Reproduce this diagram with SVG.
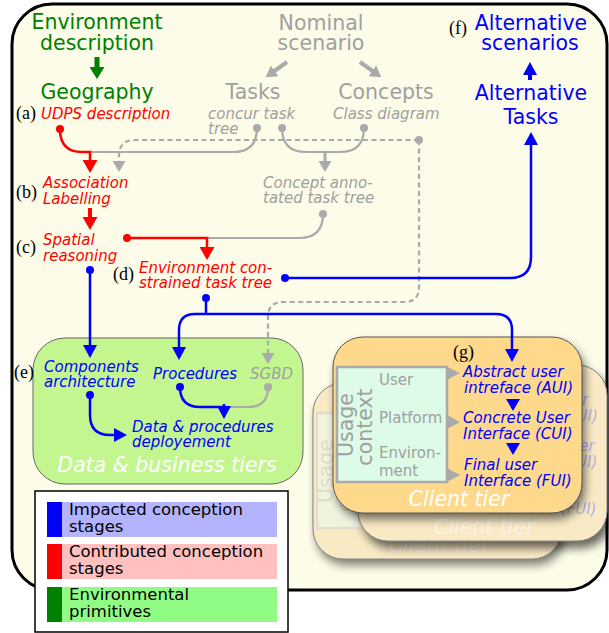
<svg xmlns="http://www.w3.org/2000/svg" xmlns:xlink="http://www.w3.org/1999/xlink" width="609" height="633" viewBox="0 0 609 633">
<style>
text{font-family:"DejaVu Sans","Noto Sans",sans-serif}
.big{font-size:20.5px}
.it{font-size:15px;font-style:italic}
.nm{font-size:15px}
.lab{font-family:"Liberation Serif","DejaVu Serif",serif;font-size:18px;fill:#000}
.grn{fill:#008000}.red{fill:#ff0000}.blu{fill:#0000ff}.gry{fill:#a0a0a0}
.leg{font-size:16.5px;fill:#000}
.tier{font-size:20.5px;font-style:italic;fill:#ffffff}
.cr{fill:none;stroke:#ff0000;stroke-width:2.5}
.cb{fill:none;stroke:#0000ff;stroke-width:2.5}
.cg{fill:none;stroke:#aaaaaa;stroke-width:2.2}
.dash{stroke-dasharray:5,3.5}
.dr{fill:#ff0000}.db{fill:#0000ff}.dg{fill:#aaaaaa}
</style>
<defs>
<marker id="ah-r" viewBox="0 0 13 15" refX="2" refY="7.5" markerWidth="13" markerHeight="15" markerUnits="userSpaceOnUse" orient="auto"><path d="M0,0 L13,7.5 L0,15 Z" fill="#ff0000"/></marker>
<marker id="ah-b" viewBox="0 0 13 14" refX="2" refY="7" markerWidth="13" markerHeight="14" markerUnits="userSpaceOnUse" orient="auto"><path d="M0,0 L13,7 L0,14 Z" fill="#0000ff"/></marker>
<marker id="ah-g" viewBox="0 0 11 13" refX="2" refY="6.5" markerWidth="11" markerHeight="13" markerUnits="userSpaceOnUse" orient="auto"><path d="M0,0 L11,6.5 L0,13 Z" fill="#aaaaaa"/></marker>
<marker id="ah-gr" viewBox="0 0 12 15" refX="2" refY="7.5" markerWidth="12" markerHeight="15" markerUnits="userSpaceOnUse" orient="auto"><path d="M0,0 L12,7.5 L0,15 Z" fill="#008000"/></marker>
<filter id="shadow" x="-20%" y="-20%" width="140%" height="140%"><feGaussianBlur stdDeviation="5"/></filter>
</defs>

<rect id="background" x="12" y="4" width="595" height="586" rx="40" fill="#fcfce8" stroke="#000" stroke-width="3"/>

<g id="data-business-tiers">
<rect x="33" y="338" width="270" height="146" rx="32" fill="#c4f690" stroke="#666" stroke-width="1"/>
<text class="tier" x="167" y="472" text-anchor="middle">Data &amp; business tiers</text>
</g>

<g id="client-tier-back-left" transform="translate(-20,46)">
<rect x="336" y="343" width="249" height="176" rx="30" fill="#000" opacity="0.5" filter="url(#shadow)"/>
<rect x="333" y="337" width="249" height="176" rx="30" fill="#f8f1dc" stroke="#999" stroke-width="1"/>
<use xlink:href="#client-card" href="#client-card" opacity="0.28"/>
</g>
<g id="client-tier-back-right" transform="translate(25,28)">
<rect x="337" y="344" width="249" height="176" rx="30" fill="#000" opacity="0.6" filter="url(#shadow)"/>
<rect x="333" y="337" width="249" height="176" rx="30" fill="#f8f1dc" stroke="#999" stroke-width="1"/>
<use xlink:href="#client-card" href="#client-card" opacity="0.28"/>
</g>

<g id="client-tier">
<rect x="336" y="343" width="249" height="176" rx="30" fill="#000" opacity="0.55" filter="url(#shadow)"/>
<g id="client-card">
<rect x="333" y="337" width="249" height="176" rx="30" fill="#fed98b" stroke="#555" stroke-width="1"/>
<g id="usage-context">
<rect x="337" y="367" width="110" height="115" fill="#ddfbe6" stroke="#aaaaaa" stroke-width="2.5"/>
<text class="gry" font-size="20.5" transform="translate(353,425) rotate(-90)" text-anchor="middle">Usage</text>
<text class="gry" font-size="20.5" transform="translate(372,427) rotate(-90)" text-anchor="middle">context</text>
<text class="nm gry" x="379" y="385">User</text>
<text class="nm gry" x="379" y="423">Platform</text>
<text class="nm gry" x="379" y="458">Environ-</text>
<text class="nm gry" x="379" y="476">ment</text>
<path class="dg" d="M447,367 L460,373 L447,380 Z M447,415 L460,422 L447,429 Z M447,468 L460,475 L447,482 Z"/>
</g>
<g id="aui"><text class="it blu" x="463" y="377">Abstract user</text><text class="it blu" x="464" y="393">intreface (AUI)</text></g>
<path class="db" d="M506,399 L520,399 L513,411 Z"/>
<g id="cui"><text class="it blu" x="463" y="423">Concrete User</text><text class="it blu" x="463" y="439">Interface (CUI)</text></g>
<path class="db" d="M506,443 L520,443 L513,455 Z"/>
<g id="fui"><text class="it blu" x="464" y="470">Final user</text><text class="it blu" x="464" y="486">Interface (FUI)</text></g>
<text class="tier" x="459" y="506" text-anchor="middle">Client tier</text>
</g>
<text class="lab" x="453" y="358">(g)</text>
</g>

<g id="connectors">
<path class="cr" d="M97,57 L97,69" style="stroke:#008000;stroke-width:5" marker-end="url(#ah-gr)"/>
<path class="cg" d="M287,62 L273,72" style="stroke-width:4" marker-end="url(#ah-g)"/>
<path class="cg" d="M360,62 L374,72" style="stroke-width:4" marker-end="url(#ah-g)"/>
<path class="cb" d="M530,80 L530,73" style="stroke-width:4" marker-end="url(#ah-b)"/>
<path class="cg" d="M257,128 Q257,152 233,152 L90,152"/>
<path class="cg" d="M282,128 Q282,152 306,152 L340,152 Q364,152 364,128"/>
<path class="cg" d="M325,152 L325,163" style="stroke-width:3" marker-end="url(#ah-g)"/>
<path class="cg dash" d="M419,140 L135,140 Q119,140 119,156 L119,163" marker-end="url(#ah-g)"/>
<path class="cg dash" d="M419,140 L419,287 Q419,302 404,302 L283,302 Q268,302 268,317 L268,355" marker-end="url(#ah-g)"/>
<path class="cg" d="M323,214 Q323,238 299,238 L207,238"/>
<path class="cg" d="M268,387 Q268,407 248,407 L224,407"/>
<path class="cr" d="M60,129 Q60,152 82,152 L90,152 L90,162" marker-end="url(#ah-r)"/>
<path class="cr" d="M90,208 L90,219" style="stroke-width:4" marker-end="url(#ah-r)"/>
<path class="cr" d="M127,238 L207,238 L207,249" marker-end="url(#ah-r)"/>
<path class="cb" d="M90,270 L90,347" marker-end="url(#ah-b)"/>
<path class="cb" d="M206,298 L206,314"/>
<path class="cb" d="M206,314 L195,314 Q179,314 179,330 L179,349" marker-end="url(#ah-b)"/>
<path class="cb" d="M206,314 L496,314 Q512,314 512,330 L512,351" marker-end="url(#ah-b)"/>
<path class="cb" d="M285,278 L510,278 Q531,278 531,257 L531,143" marker-end="url(#ah-b)"/>
<path class="cb" d="M90,395 L90,415 Q90,435 110,435 L116,435" marker-end="url(#ah-b)"/>
<path class="cb" d="M180,387 Q180,407 200,407 L224,407"/>
<path class="cb" d="M224,404 L224,408" marker-end="url(#ah-b)"/>
<circle class="dr" cx="60" cy="129" r="4"/>
<circle class="dr" cx="127" cy="238" r="4"/>
<circle class="dg" cx="257" cy="128" r="4"/>
<circle class="dg" cx="282" cy="128" r="4"/>
<circle class="dg" cx="364" cy="128" r="4"/>
<circle class="dg" cx="419" cy="140" r="4"/>
<circle class="dg" cx="323" cy="214" r="4"/>
<circle class="dg" cx="268" cy="387" r="4"/>
<circle class="db" cx="90" cy="270" r="4"/>
<circle class="db" cx="206" cy="298" r="4"/>
<circle class="db" cx="285" cy="278" r="4"/>
<circle class="db" cx="90" cy="395" r="4"/>
<circle class="db" cx="180" cy="387" r="4"/>
</g>

<g id="environment-description"><text class="big grn" x="97" y="29" text-anchor="middle">Environment</text><text class="big grn" x="97" y="50" text-anchor="middle">description</text></g>
<g id="geography"><text class="big grn" x="97" y="99" text-anchor="middle">Geography</text></g>
<g id="udps"><text class="lab" x="16" y="119">(a)</text><text class="it red" x="41" y="119">UDPS description</text></g>
<g id="nominal-scenario"><text class="big gry" x="321" y="30" text-anchor="middle">Nominal</text><text class="big gry" x="321" y="50" text-anchor="middle">scenario</text></g>
<g id="tasks"><text class="big gry" x="253" y="99" text-anchor="middle">Tasks</text><text class="it gry" x="208" y="119">concur task</text><text class="it gry" x="208" y="134">tree</text></g>
<g id="concepts"><text class="big gry" x="386" y="99" text-anchor="middle">Concepts</text><text class="it gry" x="333" y="119">Class diagram</text></g>
<g id="alternative-scenarios"><text class="lab" x="449" y="34">(f)</text><text class="big blu" x="531" y="30" text-anchor="middle">Alternative</text><text class="big blu" x="530" y="50" text-anchor="middle">scenarios</text></g>
<g id="alternative-tasks"><text class="big blu" x="531" y="100" text-anchor="middle">Alternative</text><text class="big blu" x="531" y="124" text-anchor="middle">Tasks</text></g>
<g id="association"><text class="lab" x="16" y="198">(b)</text><text class="it red" x="43" y="188">Association</text><text class="it red" x="43" y="204">Labelling</text></g>
<g id="concept-annotated"><text class="it gry" x="263" y="188">Concept anno-</text><text class="it gry" x="263" y="203">tated task tree</text></g>
<g id="spatial"><text class="lab" x="16" y="253">(c)</text><text class="it red" x="43" y="245">Spatial</text><text class="it red" x="43" y="261">reasoning</text></g>
<g id="env-constrained"><text class="lab" x="113" y="280">(d)</text><text class="it red" x="139" y="273">Environment con-</text><text class="it red" x="139" y="288">strained task tree</text></g>
<g id="components"><text class="lab" x="14" y="378">(e)</text><text class="it blu" x="44" y="372">Components</text><text class="it blu" x="44" y="387">architecture</text></g>
<g id="procedures"><text class="it blu" x="153" y="379">Procedures</text></g>
<g id="sgbd"><text class="it gry" x="250" y="379">SGBD</text></g>
<g id="deployment"><text class="it blu" x="132" y="432">Data &amp; procedures</text><text class="it blu" x="132" y="447">deployement</text></g>

<g id="legend">
<rect x="35" y="491" width="253" height="141" fill="#fff" stroke="#000" stroke-width="1.5"/>
<rect x="62" y="502" width="215" height="35" fill="#b3b3ff"/><rect x="47" y="502" width="15" height="35" fill="#0000ff"/>
<text class="leg" x="69" y="515">Impacted conception</text><text class="leg" x="69" y="532">stages</text>
<rect x="62" y="544" width="215" height="35" fill="#ffc0c0"/><rect x="47" y="544" width="15" height="35" fill="#ff0000"/>
<text class="leg" x="69" y="557">Contributed conception</text><text class="leg" x="69" y="574">stages</text>
<rect x="62" y="587" width="215" height="35" fill="#90fc85"/><rect x="47" y="587" width="15" height="35" fill="#008000"/>
<text class="leg" x="69" y="600">Environmental</text><text class="leg" x="69" y="617">primitives</text>
</g>
</svg>
